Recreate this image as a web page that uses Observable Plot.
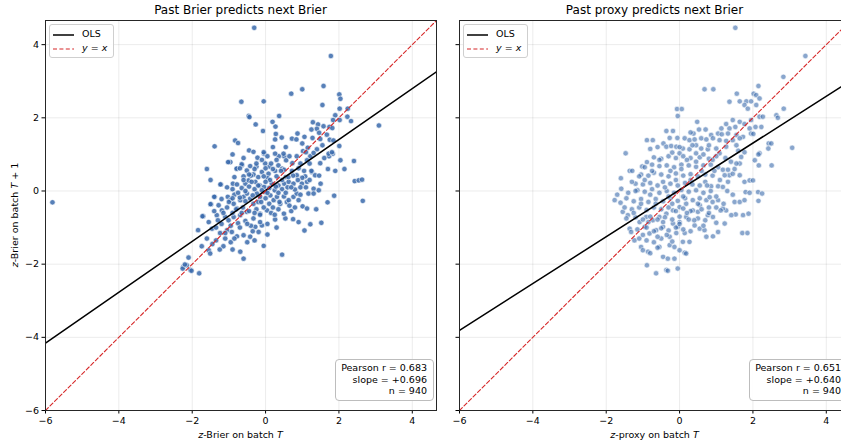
<!DOCTYPE html>
<html>
<head>
<meta charset="utf-8">
<script src="https://cdn.jsdelivr.net/npm/d3@7"></script>
<script src="https://cdn.jsdelivr.net/npm/@observablehq/plot@0.6"></script>
<style>
  html, body { margin: 0; padding: 0; background: #fff; }
  body { font-family: "DejaVu Sans", sans-serif; }
  #wrap { position: relative; width: 841px; height: 446px; overflow: hidden; }
  .abs { position: absolute; white-space: nowrap; color: #000; }
  .title { font-size: 12px; transform: translateX(-50%); }
  .xlab { font-size: 9.5px; transform: translateX(-50%); }
  .ylab { font-size: 9.5px; transform: translate(-50%, -50%) rotate(-90deg); }
  .legend { border: 1px solid #cfcfcf; border-radius: 3px; background: rgba(255,255,255,0.85);
            font-size: 9.5px; padding: 2px 6px 2px 3px; line-height: 14px; }
  .legend svg { vertical-align: middle; margin-right: 8px; }
  .stats { border: 1px solid #bdbdbd; border-radius: 4px; background: rgba(255,255,255,0.9);
           font-size: 9.5px; text-align: right; padding: 2px 6px 3px 5px; line-height: 11.6px; }
  svg text { font-family: "DejaVu Sans", sans-serif; }
</style>
</head>
<body>
<div id="wrap"></div>
<script>
// ---------------- data ----------------
const panelTitles = ["Past Brier predicts next Brier", "Past proxy predicts next Brier"];
const axisTicks = [-6, -4, -2, 0, 2, 4];
const axisDomain = [-6, 4.66];

// Panel statistics
const pearsonR = [0.683, 0.651];
const olsSlope = [0.696, 0.640];
const olsIntercept = [0.015, 0.03];
const sampleN = [940, 940];

// Panel 1: z-Brier on batch T (x) vs z-Brier on batch T+1 (y)
const brierPoints = [
  [-5.81,-0.31],[-0.31,4.46],[1.78,3.69],[1.58,2.87],[1.0,2.78],[0.70,2.66],[2.01,2.64],[2.04,2.52],
  [1.55,2.35],[-0.66,2.44],[-0.05,2.45],[2.02,2.25],[2.24,2.25],[1.90,2.07],[-0.46,2.05],[-0.44,2.02],
  [0.37,2.05],[2.23,2.03],[2.02,1.94],[2.33,1.91],[1.84,1.94],[3.09,1.79],[-0.27,1.82],[0.19,1.89],
  [0.27,1.76],[-0.07,1.64],[1.29,1.88],[1.43,1.82],[1.58,1.77],[1.74,1.75],[1.25,1.68],[1.40,1.70],
  [1.82,1.72],[1.46,1.59],[1.67,1.54],[0.87,1.57],[0.28,1.56],[0.44,1.46],[0.26,1.41],[0.72,1.43],
  [0.84,1.41],[1.06,1.48],[1.28,1.45],[1.49,1.42],[1.75,1.40],[1.85,1.38],[-0.83,1.38],[-0.75,1.31],
  [-1.39,1.22],[-0.45,1.11],[-0.33,1.07],[-0.04,1.02],[0.05,0.95],[0.36,0.95],[0.51,0.95],[1.02,1.09],
  [1.15,1.18],[1.4,1.14],[2.01,1.23],[1.83,1.02],[1.73,0.95],[1.22,0.95],
  [-0.22,0.91],[-0.05,1.06],[0.26,1.02],[0.49,1.02],[0.85,0.95],[1.10,1.06],[1.31,1.04],[1.72,1.02],
  [1.81,1.06],[-1.01,0.79],[-0.96,0.79],[-0.65,0.70],[-0.42,0.68],[-0.25,0.67],[-0.01,0.75],[0.11,0.67],
  [0.35,0.70],[0.56,0.84],[0.73,0.76],[0.95,0.75],[1.13,0.84],[1.49,0.76],[2.04,0.84],[2.41,0.82],
  [-0.78,0.61],[-0.51,0.56],[-0.33,0.45],[-0.10,0.52],[0.08,0.47],[0.26,0.55],[0.45,0.61],[0.72,0.55],
  [0.85,0.43],[1.08,0.40],[1.26,0.52],[1.35,0.43],[1.46,0.42],[2.43,0.27],[2.54,0.29],[2.63,0.31],
  [-1.22,0.18],[-0.89,0.20],[-0.78,0.18],[-0.55,0.20],[-0.46,0.29],[-0.28,0.25],[-0.16,0.15],[-0.04,0.11],
  [0.17,0.20],[0.35,0.15],[0.51,0.20],[0.63,0.25],[0.76,0.20],[0.99,0.20],[1.13,0.25],[1.31,0.06],
  [1.45,0.02],[1.17,-0.07],[1.31,-0.07],[1.87,-0.13],[1.69,-0.31],[2.65,-0.27],[-1.39,-0.16],[-1.49,-0.36],
  [-1.28,-0.39],[-1.19,-0.53],[-1.33,-0.66],[-1.03,-0.16],[-0.96,-0.25],[-0.87,-0.35],[-0.78,-0.48],
  [-0.69,-0.25],[-0.60,-0.16],[-0.51,-0.07],[-0.42,-0.21],[-0.33,-0.35],[-0.24,-0.07],[-0.15,-0.16],
  [-0.01,-0.03],[0.13,-0.12],[0.22,-0.25],[0.31,-0.16],[0.40,-0.35],[0.58,-0.30],[0.63,-0.25],[0.76,-0.16],
  [1.01,-0.42],[1.13,-0.48],[1.38,-0.50],[0.85,-0.07],[-1.70,-0.69],[-1.10,-0.71],[-1.01,-0.80],
  [-0.87,-0.71],[-0.69,-0.66],[-0.51,-0.57],[-0.33,-0.75],[-0.15,-0.62],[0.04,-0.53],[0.26,-0.78],
  [0.54,-0.75],[0.75,-0.77],[0.90,-0.85],[1.22,-0.91],[1.52,-0.87],[-1.84,-1.07],[-1.46,-1.03],
  [-1.24,-1.15],[-1.05,-1.07],[-0.92,-1.12],[-0.78,-1.24],[-0.60,-1.21],[-0.42,-1.25],[-0.19,-1.12],
  [0.05,-1.19],[-0.10,-0.94],[-0.28,-0.98],[1.06,-1.08],[-1.15,-1.51],[-1.74,-1.51],[-1.55,-1.62],
  [-1.51,-1.71],[-0.69,-1.66],[-0.60,-1.85],[0.45,-1.74],[-2.10,-1.82],[-2.24,-2.07],[-2.15,-2.03],
  [-2.05,-2.16],[-1.81,-2.25],[-2.26,-2.12],[-2.2,-2.01],[-2.02,-2.18],
  [-1.72,-0.69],[-1.5,-0.36],[-1.4,-0.16],[-1.23,0.18],[-1.02,0.79],[-0.79,0.61],[-0.65,0.73],
  [-0.7,0.62],[-0.3,0.6],[0.0,0.62],[0.2,0.6],[0.5,0.58],[0.9,0.62],
  [-0.85,0.38],[-0.6,0.4],[-0.4,0.42],[-0.2,0.38],[0.05,0.35],[0.3,0.4],[0.55,0.38],[0.75,0.42],[1.0,0.36],[1.2,0.3],
  [-1.05,0.1],[-0.9,0.05],[-0.65,0.08],[-0.45,0.12],[-0.3,0.05],[-0.1,0.02],[0.1,0.08],[0.25,0.02],[0.45,0.05],[0.6,0.1],[0.8,0.04],[0.95,0.1],
  [-1.2,-0.22],[-0.85,-0.1],[-0.7,-0.18],[-0.55,-0.28],[-0.35,-0.12],[-0.2,-0.3],[0.0,-0.2],[0.1,-0.35],[0.35,-0.05],[0.5,-0.15],[0.65,-0.4],[0.9,-0.25],
  [-1.4,-0.55],[-1.05,-0.45],[-0.9,-0.6],[-0.62,-0.45],[-0.45,-0.55],[-0.25,-0.5],[-0.05,-0.45],[0.15,-0.6],[0.35,-0.5],[0.5,-0.62],[0.7,-0.55],
  [-1.55,-0.85],[-1.2,-0.9],[-0.95,-0.95],[-0.75,-0.88],[-0.55,-0.82],[-0.4,-0.95],[-0.15,-0.85],[0.05,-0.9],[0.3,-1.0],[-1.35,-1.0],
  [-1.6,-1.3],[-1.35,-1.35],[-1.1,-1.3],[-0.95,-1.4],[-0.5,-1.4],[-0.3,-1.35],[-0.05,-1.5],[-1.25,-1.6],[-0.9,-1.6],[-1.45,-1.45],
  [-0.6,0.9],[-0.1,0.85],[0.3,0.85],[0.65,0.95],[1.2,0.75],[1.6,0.9],[0.2,1.2],[0.55,1.2],[1.55,1.25],[1.0,1.3],
  [-0.9,1.0],[-1.6,0.6],[-1.5,0.3],[1.25,0.55],[1.7,0.6],[1.9,0.55],[1.5,0.2],[2.15,0.6],
  [-1.3,-0.8],[-1.15,-0.6],[-1.0,-0.3],[-0.8,-0.5],[-0.75,-0.05],[-0.6,0.3],[-0.5,-0.9],[-0.38,0.25],
  [-0.3,-0.6],[-0.2,0.15],[-0.12,-0.3],[-0.05,0.4],[0.05,-0.05],[0.12,0.3],[0.2,-0.45],[0.28,0.12],
  [0.38,-0.3],[0.42,0.55],[0.55,-0.05],[0.62,0.38],[0.7,0.1],[0.8,-0.45],[0.88,0.3],[0.95,-0.1],
  [1.05,0.55],[1.1,0.1],[-1.1,-1.15],[-0.85,-1.3],[-0.7,-1.0],[-0.35,-1.1],[-0.55,0.0],[-0.65,-0.6],
  [-0.9,-0.2],[-0.25,0.75],[0.15,0.75],[0.45,0.3],[-0.45,0.45],[0.0,0.25],[-0.15,-0.65],[0.25,-0.65]
];

// Panel 2: z-proxy on batch T (x) vs z-Brier on batch T+1 (y)
const proxyPoints = [
  [1.52,4.46],[3.43,3.69],[2.83,3.12],[0.68,2.78],[0.92,2.78],[2.15,2.87],[1.56,2.66],[2.02,2.66],
  [2.09,2.62],[1.36,2.44],[1.64,2.45],[1.82,2.45],[1.95,2.45],[2.18,2.53],[1.77,2.35],[2.09,2.35],
  [-0.07,2.24],[0.06,2.24],[-0.05,2.05],[1.86,2.25],[2.18,2.03],[2.27,2.03],[2.84,2.25],[2.64,2.07],
  [2.68,2.0],[0.48,1.89],[1.45,1.94],[1.64,1.89],[1.77,1.83],[1.95,1.94],[2.07,1.75],[2.23,1.75],
  [1.91,1.71],[1.27,1.83],[1.14,1.71],[1.36,1.71],[1.52,1.75],[1.32,1.57],[1.55,1.53],[1.73,1.48],
  [1.95,1.57],[2.01,1.56],[-0.36,1.64],[-0.18,1.64],[0.53,1.68],[0.71,1.68],[0.38,1.57],[0.86,1.53],
  [1.05,1.57],[-0.27,1.45],[-0.06,1.45],[0.14,1.44],[0.27,1.39],[0.41,1.41],[0.59,1.44],[0.73,1.41],
  [0.91,1.44],[1.09,1.39],[1.27,1.37],[1.45,1.39],[1.64,1.44],[-0.89,1.39],[-0.73,1.39],[-0.44,1.30],
  [-0.36,1.21],[-0.23,1.23],[-0.09,1.21],[0.09,1.16],[0.27,1.14],[0.45,1.25],[0.59,1.16],[0.77,1.14],
  [1.0,1.16],[1.27,1.21],[1.55,1.25],[2.43,1.30],[2.5,1.30],[2.42,1.16],[3.07,1.18],[-1.47,1.03],
  [0.0,1.03],[0.45,1.03],[1.09,1.03],[2.18,1.03],
  [2.15,1.0],[2.05,0.84],[2.16,0.70],[2.51,0.70],[1.64,0.75],[1.68,0.93],[1.77,1.06],[-1.02,0.67],
  [-0.89,0.79],[-1.36,0.55],[-1.29,0.55],[-1.2,0.2],[-1.59,0.06],[-1.77,-0.25],[-1.61,-0.32],
  [-1.55,-0.57],[-1.41,-0.66],[-1.45,-0.75],[-1.36,-1.03],[-1.32,-1.12],[-1.23,-1.35],[-1.05,-1.53],
  [-1.0,-1.62],[-0.86,-1.66],[-0.89,-2.03],[-0.64,-2.25],[-0.36,-2.16],[-0.32,-2.18],[-0.05,-2.12],
  [-0.45,-1.80],[-0.32,-1.85],[-0.14,-1.85],[-0.55,-1.53],[-0.27,-1.48],[-0.14,-1.53],[0.0,-1.62],
  [0.14,-1.69],[0.18,-1.71],[0.09,-1.39],[0.27,-1.39],[-0.27,-1.25],[-0.09,-1.15],[-0.05,-0.98],
  [0.14,-1.15],[0.41,-0.94],[0.55,-1.03],[0.68,-1.07],[0.73,-1.25],[0.91,-1.24],[1.05,-1.12],
  [1.23,-0.89],[1.0,-0.87],[1.71,-1.15],[1.85,-1.15],[1.73,-0.66],[1.88,-0.62],[1.53,-0.64],
  [1.27,-0.53],[1.18,-0.48],[1.41,-0.66],[0.77,-0.66],[0.91,-0.71],[0.5,-0.57],[0.36,-0.53],
  [0.18,-0.71],[0.0,-0.85],[-0.18,-0.89],[-0.45,-0.98],[-0.64,-1.07],[-0.82,-1.16],[-0.95,-0.98],
  [-1.09,-0.85],[-0.91,-0.71],[-0.73,-0.8],[-0.55,-0.71],[-0.36,-0.62],[-0.18,-0.53],[0.0,-0.44],
  [0.18,-0.35],[0.36,-0.25],[0.55,-0.39],[0.73,-0.25],[1.05,-0.25],[1.12,-0.53],[1.5,-0.3],
  [1.64,-0.3],[1.77,-0.25],[2.15,-0.27],[1.8,-0.03],[1.91,-0.05],[2.14,-0.03],[2.25,-0.07],
  [1.0,-0.15],[0.82,-0.17],[0.86,0.13],[1.05,0.13],[1.18,0.11],[1.32,0.25],[1.64,0.43],[1.77,0.25],
  [1.91,0.29],[2.0,0.29],[1.36,0.43],[1.23,0.43],[1.18,0.58],[1.32,0.58],[1.45,0.47],[1.55,0.75],
  [-0.7,0.92],[-0.5,0.88],[-0.3,0.95],[-0.1,0.9],[0.1,0.95],[0.3,0.9],[0.55,0.92],[0.8,0.88],[1.0,0.95],[1.25,0.9],
  [-0.95,0.65],[-0.75,0.72],[-0.55,0.68],[-0.35,0.7],[-0.15,0.65],[0.05,0.72],[0.25,0.7],[0.45,0.66],[0.65,0.7],[0.85,0.72],[1.05,0.65],
  [-1.05,0.45],[-0.85,0.42],[-0.7,0.5],[-0.5,0.45],[-0.3,0.4],[-0.1,0.48],[0.1,0.42],[0.3,0.46],[0.5,0.4],[0.7,0.45],[0.9,0.42],
  [-1.3,0.25],[-1.0,0.18],[-0.8,0.22],[-0.6,0.15],[-0.45,0.25],[-0.25,0.2],[-0.05,0.15],[0.15,0.22],[0.35,0.18],[0.55,0.15],[0.7,0.25],
  [-1.4,-0.05],[-1.15,0.02],[-0.95,-0.02],[-0.75,0.05],[-0.55,-0.05],[-0.35,0.0],[-0.15,-0.05],[0.05,0.03],[0.25,-0.02],[0.45,0.02],[0.65,-0.05],[0.85,0.0],
  [-1.45,-0.2],[-1.25,-0.28],[-1.05,-0.22],[-0.85,-0.3],[-0.65,-0.22],[-0.45,-0.28],[-0.25,-0.2],[-0.05,-0.27],[0.15,-0.2],[0.55,-0.2],[0.9,-0.3],
  [-1.3,-0.5],[-1.1,-0.45],[-0.9,-0.52],[-0.7,-0.45],[-0.5,-0.5],[-0.3,-0.45],[-0.1,-0.55],[0.1,-0.48],[0.3,-0.55],[0.6,-0.5],[0.8,-0.45],
  [-1.2,-0.72],[-1.0,-0.78],[-0.8,-0.7],[-0.6,-0.78],[-0.4,-0.72],[-0.2,-0.78],[0.0,-0.7],[0.25,-0.78],[0.5,-0.75],[0.7,-0.8],
  [-1.15,-1.05],[-0.9,-1.0],[-0.7,-1.1],[-0.5,-1.02],[-0.3,-1.08],[-0.1,-1.0],[0.1,-1.05],[0.3,-1.1],
  [-1.1,-1.3],[-0.9,-1.35],[-0.7,-1.4],[-0.5,-1.3],[-0.2,-1.38],[-0.6,-1.55],[-0.8,-1.7],
  [-1.6,0.35],[-1.7,-0.1],[-1.5,-0.45],[1.3,0.0],[1.45,-0.1],[1.2,-0.35],[1.5,0.6],[1.4,0.8],
  [1.6,1.1],[0.8,1.25],[-0.8,1.15],[-0.6,1.2],[0.3,1.6],[1.15,1.55],
  [-1.25,-0.6],[-1.05,-0.35],[-0.95,0.3],[-0.85,-0.85],[-0.75,0.55],[-0.65,-0.35],[-0.55,0.85],[-0.45,-0.85],
  [-0.4,0.1],[-0.35,-1.2],[-0.25,0.55],[-0.2,-0.35],[-0.1,0.3],[0.0,-0.9],[0.05,0.6],[0.1,-0.15],
  [0.2,0.85],[0.2,-0.6],[0.3,0.3],[0.4,-0.8],[0.45,0.8],[0.5,-0.35],[0.6,0.55],[0.65,-0.95],
  [0.75,0.15],[0.8,-0.6],[0.95,0.55],[1.0,-0.45],[1.1,0.3],[-1.2,0.0],[-1.1,0.4],[-1.0,-1.2],
  [-0.8,-0.1],[-0.6,-1.25],[-0.3,-0.15],[0.0,1.2],[0.35,1.25],[-0.2,1.05],[0.65,1.0],[0.9,0.85]
];

const panelPoints = [brierPoints, proxyPoints];
const dotOpacity = [0.85, 0.6];

// ---------------- drawing ----------------
const wrap = document.getElementById("wrap");
const fmt = d => (d < 0 ? "\u2212" + Math.abs(d) : String(d));

const FRAME_W = 391, FRAME_H = 390, MT = 20, MB = 36;
const panelLeft = [0, 414];
const ML = 45, MR = 14;
const DASH = "4,2.4";

function makePanel(i) {
  const pts = panelPoints[i];
  const olsLine = axisDomain.map(x => ({x, y: olsIntercept[i] + olsSlope[i] * x}));
  const idLine = axisDomain.map(x => ({x, y: x}));
  const svg = Plot.plot({
    width: ML + FRAME_W + MR,
    height: MT + FRAME_H + MB,
    marginLeft: ML, marginRight: MR, marginTop: MT, marginBottom: MB,
    style: {fontFamily: "DejaVu Sans, sans-serif", fontSize: "9.5px", background: "transparent", color: "#000"},
    x: {domain: axisDomain, ticks: axisTicks, tickFormat: fmt, label: null, tickSize: 3.5, tickPadding: 3},
    y: {domain: axisDomain, ticks: axisTicks, tickFormat: i === 0 ? fmt : () => "", label: null, tickSize: 3.5, tickPadding: 3},
    marks: [
      Plot.gridX(axisTicks, {stroke: "#000", strokeOpacity: 0.08, strokeWidth: 1}),
      Plot.gridY(axisTicks, {stroke: "#000", strokeOpacity: 0.08, strokeWidth: 1}),
      Plot.dot(pts, {x: d => d[0], y: d => d[1], r: 2.7, fill: "#3a6aab", fillOpacity: dotOpacity[i],
                     stroke: "#ffffff", strokeWidth: 0.7, strokeOpacity: 0.85}),
      Plot.line(olsLine, {x: "x", y: "y", stroke: "#000", strokeWidth: 1.5, clip: true}),
      Plot.line(idLine, {x: "x", y: "y", stroke: "#d62728", strokeWidth: 1.1, strokeDasharray: DASH, clip: true}),
      Plot.frame({stroke: "#262626", strokeWidth: 1})
    ]
  });
  svg.style.position = "absolute";
  svg.style.left = panelLeft[i] + "px";
  svg.style.top = "0px";
  svg.style.overflow = "visible";
  wrap.appendChild(svg);

  const fl = panelLeft[i] + ML; // frame left in px
  const fr = fl + FRAME_W;

  // title
  const t = document.createElement("div");
  t.className = "abs title";
  t.style.left = (fl + FRAME_W / 2) + "px";
  t.style.top = "3px";
  t.textContent = panelTitles[i];
  wrap.appendChild(t);

  // x label
  const xl = document.createElement("div");
  xl.className = "abs xlab";
  xl.style.left = (fl + FRAME_W / 2) + "px";
  xl.style.top = "429px";
  xl.innerHTML = i === 0 ? "<i>z</i>-Brier on batch <i>T</i>" : "<i>z</i>-proxy on batch <i>T</i>";
  wrap.appendChild(xl);

  // legend
  const lg = document.createElement("div");
  lg.className = "abs legend";
  lg.style.left = (fl + 4) + "px";
  lg.style.top = "24px";
  lg.innerHTML =
    '<div><svg width="21" height="6"><line x1="0" y1="3" x2="21" y2="3" stroke="#000" stroke-width="1.5"/></svg>OLS</div>' +
    '<div><svg width="21" height="6"><line x1="0" y1="3" x2="21" y2="3" stroke="#d62728" stroke-width="1.1" stroke-dasharray="' + DASH + '"/></svg><i>y</i> = <i>x</i></div>';
  wrap.appendChild(lg);

  // stats box
  const sb = document.createElement("div");
  sb.className = "abs stats";
  sb.style.right = (841 - (fr - 2)) + "px";
  sb.style.top = "359px";
  sb.innerHTML = `Pearson r = ${pearsonR[i].toFixed(3)}<br>slope = +${olsSlope[i].toFixed(3)}<br>n = ${sampleN[i]}`;
  wrap.appendChild(sb);
}

makePanel(0);
makePanel(1);

// shared y label
const yl = document.createElement("div");
yl.className = "abs ylab";
yl.style.left = "14px";
yl.style.top = (MT + FRAME_H / 2) + "px";
yl.innerHTML = "<i>z</i>-Brier on batch <i>T</i> + 1";
wrap.appendChild(yl);
</script>
</body>
</html>
